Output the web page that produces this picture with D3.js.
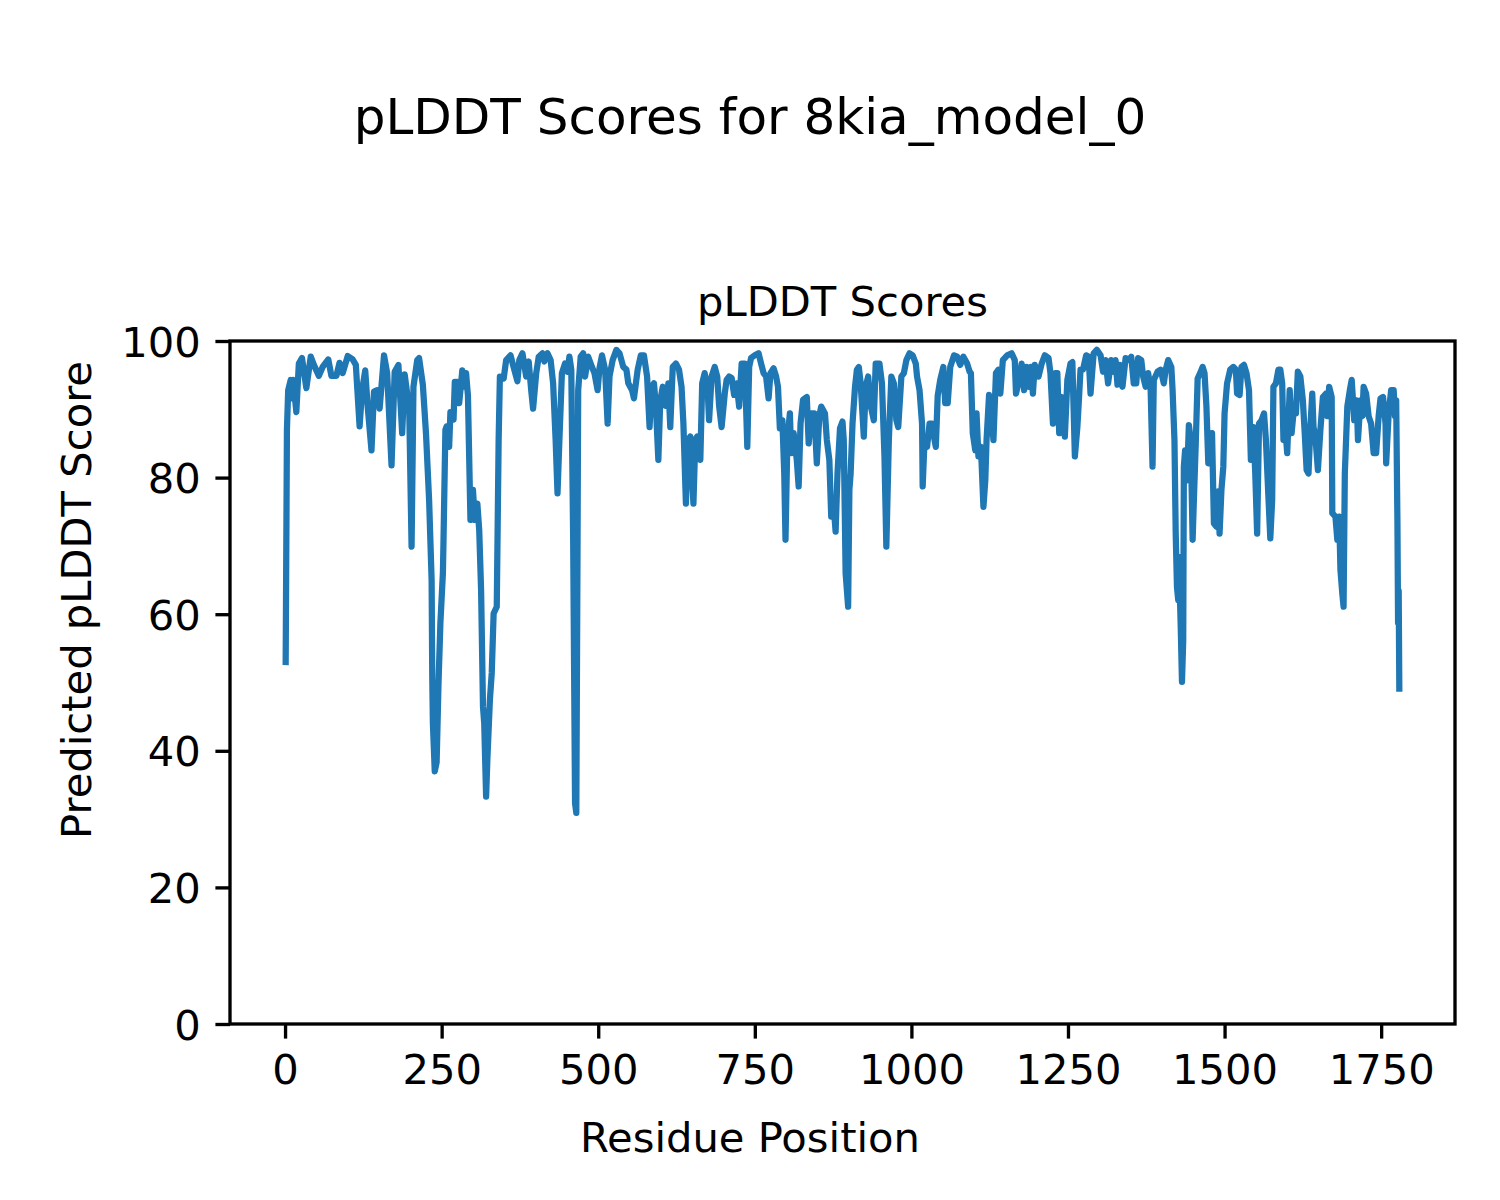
<!DOCTYPE html>
<html>
<head>
<meta charset="utf-8">
<script src="https://cdn.jsdelivr.net/npm/d3@7"></script>
<style>
  html, body { margin: 0; padding: 0; background: #fff; }
  svg { display: block; }
  text { font-family: "DejaVu Sans", sans-serif; fill: #000; }
</style>
</head>
<body>
<svg id="chart" width="1500" height="1200"></svg>
<script>
const residues = [
  1,3,5,9,11,13,18,22,27,34,41,46,54,60,69,74,82,87,92,100,108,113,119,123,128,132,138,
  142,147,151,158,163,170,175,181,187,191,195,198,202,205,211,214,220,225,230,234,235,236,239,242,245,248,252,253,256,258,262,264,269,271,275,278,283,287,
  289,292,296,300,303,307,310,313,316,318,321,323,327,330,333,338,341,343,349,353,360,366,371,374,379,385,389,393,396,401,405,411,414,419,424,428,432,435,438,
  442,447,451,454,457,460,463,465,467,468,472,476,479,484,490,494,499,502,506,511,515,518,523,529,534,540,545,548,554,557,563,568,573,578,582,585,589,
  592,596,599,603,608,612,615,619,624,629,633,636,640,643,647,650,652,655,658,663,666,670,675,677,681,686,690,693,697,702,705,709,713,717,721,725,729,734,738,741,
  744,750,756,760,764,768,772,775,780,784,787,790,794,797,799,802,806,808,812,817,820,823,827,833,836,840,845,849,853,856,862,865,869,872,876,879,882,886,890,
  892,895,899,901,903,906,910,913,916,919,924,927,931,935,940,943,949,953,957,960,964,968,972,976,979,984,988,992,997,1002,1007,1009,1013,1017,1018,1021,1025,1029,1033,1035,1039,
  1042,1046,1051,1054,1058,1062,1068,1073,1078,1083,1089,1093,1095,1098,1102,1104,1107,1111,1115,1118,1120,1124,1128,1131,1135,1139,1142,1146,1153,1160,1165,1167,1172,1176,1180,1184,1188,
  1191,1194,1197,1203,1208,1213,1219,1222,1226,1230,1233,1236,1240,1242,1245,1249,1254,1257,1261,1265,1268,1270,1274,1279,1283,1286,1291,1296,1302,1306,1310,1314,1319,1323,1326,1329,1333,1337,
  1342,1348,1351,1355,1359,1362,1367,1370,1374,1378,1382,1385,1387,1393,1398,1403,1406,1410,1415,1417,1420,1422,1424,1426,1427,1430,1432,1434,1435,1437,1440,1443,1446,1449,1451,1454,1457,1461,1465,1468,1471,1474,1477,1480,1483,1487,
  1490,1492,1495,1498,1500,1504,1509,1514,1518,1520,1524,1527,1531,1535,1539,1542,1546,1549,1552,1555,1559,1563,1566,1570,1573,1576,1578,1582,1586,1589,1592,1594,1598,1600,1604,1607,1610,1614,1617,1621,1625,1628,1631,1634,1637,
  1640,1642,1645,1649,1653,1657,1662,1664,1667,1671,1672,1677,1680,1683,1685,1688,1690,1692,1696,1700,1703,1707,1711,1713,1717,1720,1722,1726,1730,1734,1738,1742,1746,1749,1753,1757,1758,1762,1766,1770,1772,1774,1776,1777,1778,1779
];
const plddt = [
  53,87,92.8,94.3,91.6,94.3,89.6,96.7,97.5,93.1,97.7,96.5,94.9,96.2,97.3,94.9,94.9,96.8,95.3,97.8,97.3,96.5,87.5,92.8,95.7,90.3,84.0,
  92.6,92.8,90.1,97.9,95.3,81.8,95.5,96.5,86.5,95.1,92.3,91.3,69.9,93.3,97.2,97.5,93.6,86.5,76.7,65.0,50.9,44.1,37.0,38.3,49.9,58.7,66.0,70.9,87.0,87.5,84.5,89.6,88.5,94.0,94.0,90.9,95.7,93.3,
  95.3,92,73.8,78.2,73.8,76.2,72.3,63.5,46.5,44,33.3,38.7,47.4,51.4,60.1,61.1,85.5,94.8,94.5,97.2,97.9,95.8,94.1,97.2,98.2,94.8,97.0,92.8,90.1,95.3,97.7,98.2,97.0,98.2,97.2,93.8,85.5,77.7,85.5,
  95.3,96.7,95.5,97.7,95.8,70.9,32.3,30.9,70.9,92.8,97.7,98.2,94.8,97.7,96.2,95.3,92.8,96.0,97.9,95.8,87.9,94.8,97.2,98.7,98.2,96.2,95.8,93.8,92.8,91.6,95.8,97.9,97.9,94.8,87.4,93.3,93.8,
  90.5,82.6,91.2,93.3,90.5,93.8,87.4,96.2,96.7,95.8,93.3,87.9,76.2,85.5,86.0,79.6,76.2,85.5,86.0,82.6,93.8,95.3,92.3,88.4,94.8,96.2,94.8,90.5,87.4,92.3,94.3,94.8,94.6,92.1,93.8,90.4,96.7,96.7,84.5,96.2,
  97.5,97.9,98.2,96.7,95.3,94.8,91.6,95.3,96.0,94.8,93.3,87.2,88.4,80.6,70.9,85.5,89.4,83.6,86.5,82.6,78.7,87.9,91.4,91.8,85.0,89.4,89.4,82.1,89.0,90.4,89.4,85.5,82.6,74.3,75.7,72.1,80.6,87.2,88.2,
  85.5,66.0,61.1,78.2,80.6,87.9,93.3,95.8,96.2,93.8,86.0,93.3,94.8,90.5,88.4,96.7,96.7,93.8,83.1,69.9,85.5,94.8,93.8,88.4,87.4,94.8,95.3,97.2,98.2,97.9,96.7,94.8,92.8,87.9,78.7,85.5,84.5,87.9,87.9,86.5,84.5,
  92,94.3,96.2,90.9,90.9,96.2,97.9,97.7,96.5,97.7,96.7,95.5,95.3,86.5,84.0,89.4,83.1,84.5,75.7,79.6,85.5,92.1,89.0,85.5,95.3,95.8,92.3,97.2,97.9,98.2,97.2,92.3,94.3,96.7,92.8,96.2,93.3,
  96.2,92.3,96.5,94.8,96.7,97.9,97.5,95.3,87.9,95.3,95.3,86.5,91.8,91.3,86.0,94.3,96.7,96.9,83.1,87.4,92.3,95.8,95.8,97.9,97.7,92.3,98.2,98.7,97.9,95.5,97.2,93.8,97.2,95.5,97.2,93.6,96.5,93.3,
  97.5,97.2,97.7,93.8,93.8,97.5,97.2,94.8,93.3,95.3,92.8,81.6,94.3,95.5,95.8,93.8,95.8,97.2,96.2,92.8,85.5,71.8,64.0,62.1,68.4,58.2,50.1,56.2,81.6,84.0,79.6,87.7,85.5,70.9,76.7,85.0,94.5,95.3,96.2,95.3,90.5,82.1,83.6,86.5,73.3,72.8,
  78,71.8,78.2,81.6,89.4,93.8,95.8,96.2,95.8,92.3,92.1,96.2,96.5,95.3,92.8,82.6,87.4,80.6,71.8,87.9,88.4,89.4,85.5,77.2,71.1,76.7,93.3,93.8,95.8,95.8,93.8,85.5,86.0,83.6,92.8,86.5,89.4,89.4,95.5,94.8,91.3,86.5,81.1,80.6,87.4,
  92.3,87.4,86.0,81.1,87.0,91.8,92.3,89.0,93.3,91.8,74.8,74.3,70.9,74.3,66.5,63.0,61.1,80.6,90.4,92.8,94.3,88.4,91.3,85.5,91.3,89.0,93.3,92.3,89.0,87.9,83.6,83.6,89.0,91.6,91.8,87.9,82.1,89.4,92.8,92.8,89.0,91.3,73.3,58.7,63.4,49.1
];
const xTicks = [0, 250, 500, 750, 1000, 1250, 1500, 1750];
const yTicks = [0, 20, 40, 60, 80, 100];
const figTitle = "pLDDT Scores for 8kia_model_0";
const axTitle = "pLDDT Scores";
const xLabel = "Residue Position";
const yLabel = "Predicted pLDDT Score";

const svg = d3.select("#chart");
const L = 230, R = 1455, T = 341, B = 1024;
const xMin = d3.min(residues), xMax = d3.max(residues);
const pad = 0.05 * (xMax - xMin);
const x = d3.scaleLinear().domain([xMin - pad, xMax + pad]).range([L, R]);
const y = d3.scaleLinear().domain([0, 100]).range([B, T]);

const data = residues.map((r, i) => ({ r, v: plddt[i] }));

const tickLen = 14.6, tickW = 3.33, fs = 41.67;

// line
svg.append("path")
  .datum(data)
  .attr("fill", "none")
  .attr("stroke", "#1f77b4")
  .attr("stroke-width", 6.25)
  .attr("stroke-linejoin", "round")
  .attr("stroke-linecap", "square")
  .attr("d", d3.line().x(d => x(d.r)).y(d => y(d.v)));

// axes
const gx = svg.append("g").attr("transform", `translate(0,${B})`)
  .call(d3.axisBottom(x).tickValues(xTicks).tickSize(tickLen).tickPadding(14.6).tickFormat(d3.format("d")));
const gy = svg.append("g").attr("transform", `translate(${L},0)`)
  .call(d3.axisLeft(y).tickValues(yTicks).tickSize(tickLen).tickPadding(14.6).tickFormat(d3.format("d")));
[gx, gy].forEach(g => {
  g.select(".domain").remove();
  g.selectAll(".tick line").attr("stroke", "#000").attr("stroke-width", tickW);
  g.selectAll(".tick text").attr("font-family", "DejaVu Sans").attr("font-size", fs).attr("fill", "#000");
});
gx.selectAll(".tick text").attr("dy", null).attr("y", tickLen + 14.6).attr("dominant-baseline", "hanging");
gy.selectAll(".tick text").attr("dy", "0.36em");

// spines
svg.append("rect")
  .attr("x", L).attr("y", T).attr("width", R - L).attr("height", B - T)
  .attr("fill", "none").attr("stroke", "#000").attr("stroke-width", tickW);

// titles and labels
svg.append("text").attr("x", 750).attr("y", 134).attr("text-anchor", "middle")
  .attr("font-size", 50).text(figTitle);
svg.append("text").attr("x", (L + R) / 2).attr("y", 316).attr("text-anchor", "middle")
  .attr("font-size", fs).text(axTitle);
svg.append("text").attr("x", 750).attr("y", 1152).attr("text-anchor", "middle")
  .attr("font-size", fs).text(xLabel);
svg.append("text").attr("transform", "translate(91,600) rotate(-90)").attr("text-anchor", "middle")
  .attr("font-size", fs).text(yLabel);
</script>
</body>
</html>
